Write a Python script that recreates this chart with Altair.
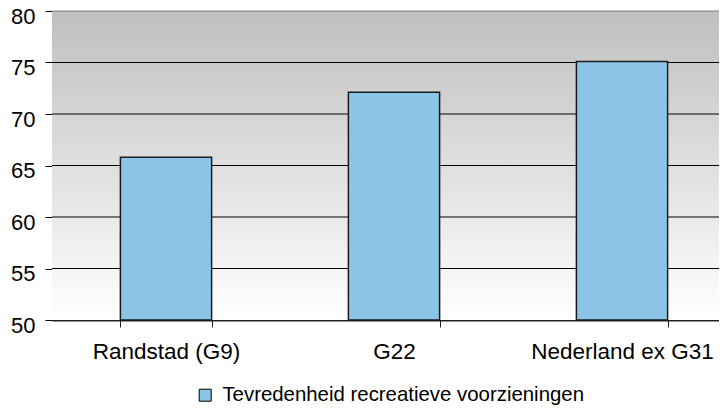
import altair as alt
import pandas as pd

categories = ["Randstad (G9)", "G22", "Nederland ex G31"]
values = [65.8, 72.1, 75.1]
series_name = "Tevredenheid recreatieve voorzieningen"
grid_values = [55, 60, 65, 70, 75, 80]
y_ticks = [50, 55, 60, 65, 70, 75, 80]

W, H = 667, 309
FONT = "Liberation Sans"

bars_df = pd.DataFrame({"cat": categories, "val": values, "series": [series_name] * len(categories)})
grid_df = pd.DataFrame({"g": grid_values})
bg_df = pd.DataFrame({"a": [0]})

yscale = alt.Scale(domain=[50, 80], nice=False, zero=False)
yaxis = alt.Axis(title=None, values=y_ticks, grid=False, tickSize=7, tickColor="black",
                 domainColor="black", labelFont=FONT, labelFontSize=22, labelColor="black",
                 labelPadding=10, labelOffset=5)

bg = alt.Chart(bg_df).mark_rect(
    color=alt.LinearGradient(
        gradient="linear",
        stops=[alt.GradientStop(color="#bfbfbf", offset=0),
               alt.GradientStop(color="#ffffff", offset=1)],
        x1=0, x2=0, y1=0, y2=1,
    )
).encode(x=alt.value(0), x2=alt.value(W), y=alt.value(0), y2=alt.value(H))

grid = alt.Chart(grid_df).mark_rule(strokeWidth=1).encode(
    y=alt.Y("g:Q", scale=yscale, axis=yaxis),
    color=alt.condition("datum.g == 80", alt.value("#808080"), alt.value("black")),
)

bars = alt.Chart(bars_df).mark_bar(stroke="#1a1a1a", strokeWidth=1.5).encode(
    x=alt.X("cat:N", sort=categories,
            scale=alt.Scale(range=[0, 684], paddingInner=0.6, paddingOuter=0.3),
            axis=alt.Axis(title=None, labelAngle=0, tickBand="extent", tickSize=7,
                          tickColor="#222", domainColor="#222", domainWidth=2,
                          labelFont=FONT, labelFontSize=22.5, labelColor="black",
                          labelPadding=13, labelLimit=0)),
    y=alt.Y("val:Q", scale=yscale, axis=yaxis),
    y2=alt.datum(50),
    color=alt.Color("series:N", scale=alt.Scale(range=["#8DC5E8"]),
                    legend=alt.Legend(title=None, orient="none", legendX=143, legendY=374,
                                      symbolType="square", symbolSize=144,
                                      symbolStrokeColor="black", symbolStrokeWidth=1,
                                      labelFont=FONT, labelFontSize=20.4, labelColor="black",
                                      labelOffset=7, padding=0, labelLimit=0)),
)

chart = alt.layer(bg, grid, bars).properties(
    width=W, height=H,
    autosize=alt.AutoSizeParams(type="none"),
    padding={"left": 44, "top": 3, "right": 0, "bottom": 88},
).configure_view(stroke=None)

chart.save("out.html", embed_options={"renderer": "svg", "actions": False})
